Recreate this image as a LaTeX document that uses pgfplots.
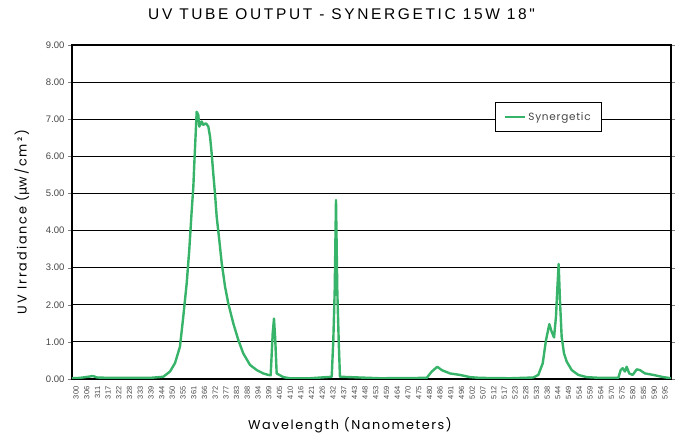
\documentclass[border=0pt]{standalone}
\usepackage{fontspec}
\usepackage{pgfplots}
\pgfplotsset{compat=1.18}
\setmainfont{Liberation Sans}
\newfontfamily\labfont[LetterSpace=12]{Poppins}
\newfontfamily\ylabfont[LetterSpace=15]{Poppins}
\newfontfamily\legfont[LetterSpace=7]{Poppins}
\newfontfamily\mufont[LetterSpace=15]{DejaVu Sans}
\newfontfamily\titfont[LetterSpace=17]{Liberation Sans}
\definecolor{synG}{RGB}{55,180,105}
\definecolor{tickG}{RGB}{70,70,70}
\begin{document}
\begin{tikzpicture}
\useasboundingbox (0pt,0pt) rectangle (681pt,433pt);
\begin{axis}[
  at={(72pt,54pt)}, anchor=south west,
  scale only axis, width=599pt, height=334pt,
  xmin=0, xmax=55.93, ymin=0, ymax=9,
  xtick={0,...,55},
  xticklabels={300,306,311,317,322,328,333,339,344,350,355,361,366,372,377,383,388,394,399,405,410,416,421,426,432,437,443,448,453,459,464,470,475,480,486,491,496,502,507,512,517,523,528,533,538,544,549,554,559,564,570,575,580,585,590,595},
  xticklabel style={rotate=90, anchor=east, font=\fontsize{7.5}{7.5}\selectfont, text=tickG, yshift=-4pt},
  major x tick style={draw=none},
  ytick={0,1,...,9},
  yticklabel style={font=\fontsize{9.5}{9.5}\selectfont, text=tickG},
  /pgf/number format/assume math mode=true,
  yticklabel={\pgfmathprintnumber[fixed,fixed zerofill,precision=2]{\tick}},
  tick align=outside, major tick length=4pt,
  ymajorgrids, grid style={black, line width=0.9pt},
  axis line style={black, line width=2.2pt},
  title={\titfont UV TUBE OUTPUT - SYNERGETIC 15W 18"},
  title style={at={(0.45,1.075)}, anchor=center, font=\fontsize{15.5}{15.5}\selectfont},
  xlabel={\labfont Wavelength (Nanometers)},
  xlabel style={at={(axis description cs:0.464,-0.138)}, anchor=center, font=\fontsize{12.8}{12.8}\selectfont},
  ylabel={\ylabfont UV Irradiance ({\mufont μ}w/cm²)},
  ylabel style={at={(axis description cs:-0.0835,0.47)}, anchor=center, font=\fontsize{12.8}{12.8}\selectfont},
  legend style={at={(0.706,0.829)}, anchor=north west, draw=black, line width=1.3pt, fill=white,
    font=\legfont\fontsize{10.5}{10.5}\selectfont, text=tickG, inner xsep=8.5pt, inner ysep=7.5pt},
  legend image code/.code={\draw[#1] (0pt,0pt) -- (20pt,0pt);},
]
\addplot[synG, line width=2.4pt, line join=round] coordinates {
(0,0.02) (0.75,0.03) (1.49,0.06) (1.96,0.08) (2.33,0.04) (3.55,0.03) (5.42,0.03) (7.28,0.03)
(8.52,0.06) (9.15,0.2) (9.62,0.43) (10.08,0.87) (10.39,1.68) (10.71,2.58) (10.95,3.48)
(11.18,4.55) (11.33,5.18) (11.42,5.81) (11.55,6.62) (11.64,7.2) (11.79,7.12) (11.89,6.8)
(12.11,6.94) (12.26,6.85) (12.51,6.89) (12.73,6.8) (12.89,6.53) (13.04,6.08) (13.19,5.54)
(13.35,5.0) (13.51,4.37) (13.75,3.75) (13.98,3.12) (14.29,2.49) (14.59,2.04) (15.06,1.5)
(15.53,1.05) (15.99,0.69) (16.62,0.38) (17.25,0.24) (17.86,0.15) (18.33,0.11) (18.55,0.10)
(18.74,1.23) (18.86,1.63) (18.98,1.05) (19.11,0.15) (19.73,0.05) (20.35,0.02) (22.22,0.02)
(24.25,0.06) (24.40,1.05) (24.53,2.4) (24.65,4.82) (24.77,2.4) (24.90,1.05) (25.02,0.06)
(28.76,0.02) (33.12,0.03) (33.59,0.2) (34.11,0.33) (34.52,0.24) (35.29,0.15) (36.23,0.11)
(37.16,0.05) (38.10,0.03) (40.90,0.02) (43.07,0.04) (43.54,0.11) (43.95,0.42) (44.26,1.05)
(44.57,1.48) (44.79,1.27) (45.01,1.12) (45.19,1.68) (45.31,2.4) (45.44,3.1) (45.56,2.13)
(45.72,1.14) (45.94,0.69) (46.19,0.47) (46.66,0.24) (47.27,0.11) (48.06,0.05) (49.30,0.03)
(51.01,0.03) (51.23,0.24) (51.42,0.29) (51.63,0.2) (51.79,0.33) (52.03,0.15) (52.35,0.11)
(52.73,0.26) (53.03,0.24) (53.50,0.15) (54.28,0.11) (55.21,0.05) (55.93,0.02)
};
\addlegendentry{Synergetic}
\end{axis}
\end{tikzpicture}
\end{document}
